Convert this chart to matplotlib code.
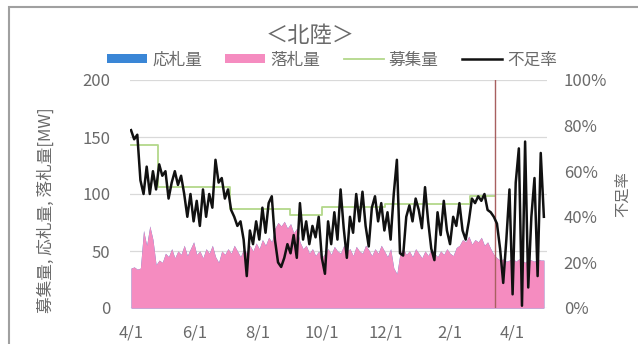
import numpy as np
import pandas as pd
import matplotlib.pyplot as plt
from matplotlib.patches import Rectangle

plt.rcParams['font.family'] = ['Noto Sans CJK JP', 'DejaVu Sans']

# data, 3-day steps from 4/1
start = '2023-04-01'
shortfall_pct = [78, 74, 76, 56, 50, 62, 50, 60, 52, 63,
                 58, 60, 48, 55, 60, 54, 58, 50, 40, 50,
                 38, 47, 36, 52, 40, 50, 44, 65, 55, 57,
                 48, 52, 43, 40, 36, 38, 30, 14, 34, 28,
                 38, 30, 44, 33, 46, 49, 30, 20, 18, 22,
                 28, 24, 32, 22, 46, 30, 38, 28, 36, 31,
                 40, 22, 15, 38, 28, 42, 30, 52, 35, 22,
                 40, 33, 50, 38, 51, 36, 27, 44, 49, 38,
                 46, 34, 42, 30, 50, 65, 24, 23, 40, 45,
                 38, 48, 43, 35, 53, 38, 26, 21, 42, 32,
                 47, 34, 28, 40, 36, 46, 34, 30, 38, 48,
                 46, 49, 47, 50, 43, 42, 40, 37, 26, 11,
                 30, 52, 6, 55, 70, 1, 73, 9, 40, 57,
                 14, 68, 40]
awarded_mw = [35, 36, 34, 35, 68, 55, 72, 60, 38, 42,
              40, 48, 45, 52, 44, 50, 47, 55, 46, 52,
              58, 47, 50, 44, 52, 48, 55, 45, 40, 50,
              47, 52, 48, 55, 50, 45, 52, 48, 55, 50,
              57, 52, 60, 55, 62, 58, 70, 75, 72, 76,
              70, 74, 66, 70, 58, 52, 55, 48, 52, 46,
              50, 44, 48, 52, 47, 54, 50, 48, 55, 50,
              52, 46, 54, 50, 48, 55, 51, 46, 52, 48,
              55, 50, 45, 52, 35, 30, 48, 52, 47, 50,
              45, 52, 48, 44, 50, 46, 52, 48, 45, 50,
              47, 52, 48, 46, 53, 55, 60, 58, 63, 56,
              60, 58, 62, 55, 58, 52, 47, 44, 42, 43,
              41, 42, 44, 41, 43, 42, 40, 43, 42, 41,
              43, 42, 42]
bid_mw = list(awarded_mw)  # bids equal awards, hidden under pink

recruit_dates = ['2023-04-01', '2023-04-27', '2023-07-05', '2023-08-31',
                 '2023-10-01', '2023-12-01', '2024-02-20', '2024-03-15']
recruit_mw = [143, 106, 87, 82, 89, 91, 98, 98]

marker_date = '2024-03-15'
tick_dates = ['2023-04-01', '2023-06-01', '2023-08-01', '2023-10-01',
              '2023-12-01', '2024-02-01', '2024-04-01']
tick_labels = ['4/1', '6/1', '8/1', '10/1', '12/1', '2/1', '4/1']

dates = pd.date_range(start, periods=len(shortfall_pct), freq='3D')
grey = '#6a6a6a'

fig = plt.figure(figsize=(6.38, 3.44), dpi=100)
ax = fig.add_axes([130/638, 1-308/344, (547-130)/638, (308-80)/344])
ax2 = ax.twinx()

ax.fill_between(dates, bid_mw, color='#3a86d6', lw=0, label='応札量')
ax.fill_between(dates, awarded_mw, color='#f58cc0', lw=0, label='落札量')
ax.plot(pd.to_datetime(recruit_dates), recruit_mw, drawstyle='steps-post',
        color='#b3d88a', lw=1.3, label='募集量')
ax.axvline(pd.Timestamp(marker_date), color='#a86060', lw=1.0)
ax2.plot(dates, shortfall_pct, color='#111111', lw=1.8, label='不足率')

ax.set_ylim(0, 200)
ax2.set_ylim(0, 100)
ax.set_yticks([0, 50, 100, 150, 200])
ax2.set_yticks([0, 20, 40, 60, 80, 100])
ax2.set_yticklabels([f'{v}%' for v in [0, 20, 40, 60, 80, 100]])
ax.set_xlim(pd.Timestamp(start) - pd.Timedelta(days=1), pd.Timestamp(start) + pd.Timedelta(days=399))
ax.set_xticks(pd.to_datetime(tick_dates))
ax.set_xticklabels(tick_labels)

ax.grid(axis='y', color='#d9d9d9', lw=0.9)
ax.set_axisbelow(True)
for a in (ax, ax2):
    for s in a.spines.values():
        s.set_visible(False)
    a.tick_params(length=0, labelsize=12, colors=grey)
ax.tick_params(axis='y', pad=14)
ax.tick_params(axis='x', pad=12)
ax2.tick_params(axis='y', pad=12)

ax.set_ylabel('募集量, 応札量, 落札量[MW]', fontsize=12, color=grey)
ax.yaxis.set_label_coords(-0.18, 0.43)
ax2.set_ylabel('不足率', fontsize=11, color=grey, rotation=90)
ax2.yaxis.set_label_coords(1.16, 0.5)

fig.text(310/638, 1-36/344, '＜北陸＞', ha='center', va='center', fontsize=16, color=grey)

h1, l1 = ax.get_legend_handles_labels()
h2, l2 = ax2.get_legend_handles_labels()
fig.legend(h1 + h2, l1 + l2, loc='center', bbox_to_anchor=(332/638, 1-60/344),
           ncol=4, frameon=False, fontsize=12, handlelength=2.4, handleheight=0.5,
           handletextpad=0.3, columnspacing=1.4, labelcolor=grey)

fig.patches.append(Rectangle((9/638, -0.2), 1.2, 1.2 - 7/344, transform=fig.transFigure,
                             fill=False, ec='#a0a0a0', lw=1.5))

fig.savefig('out.png', dpi=100)
